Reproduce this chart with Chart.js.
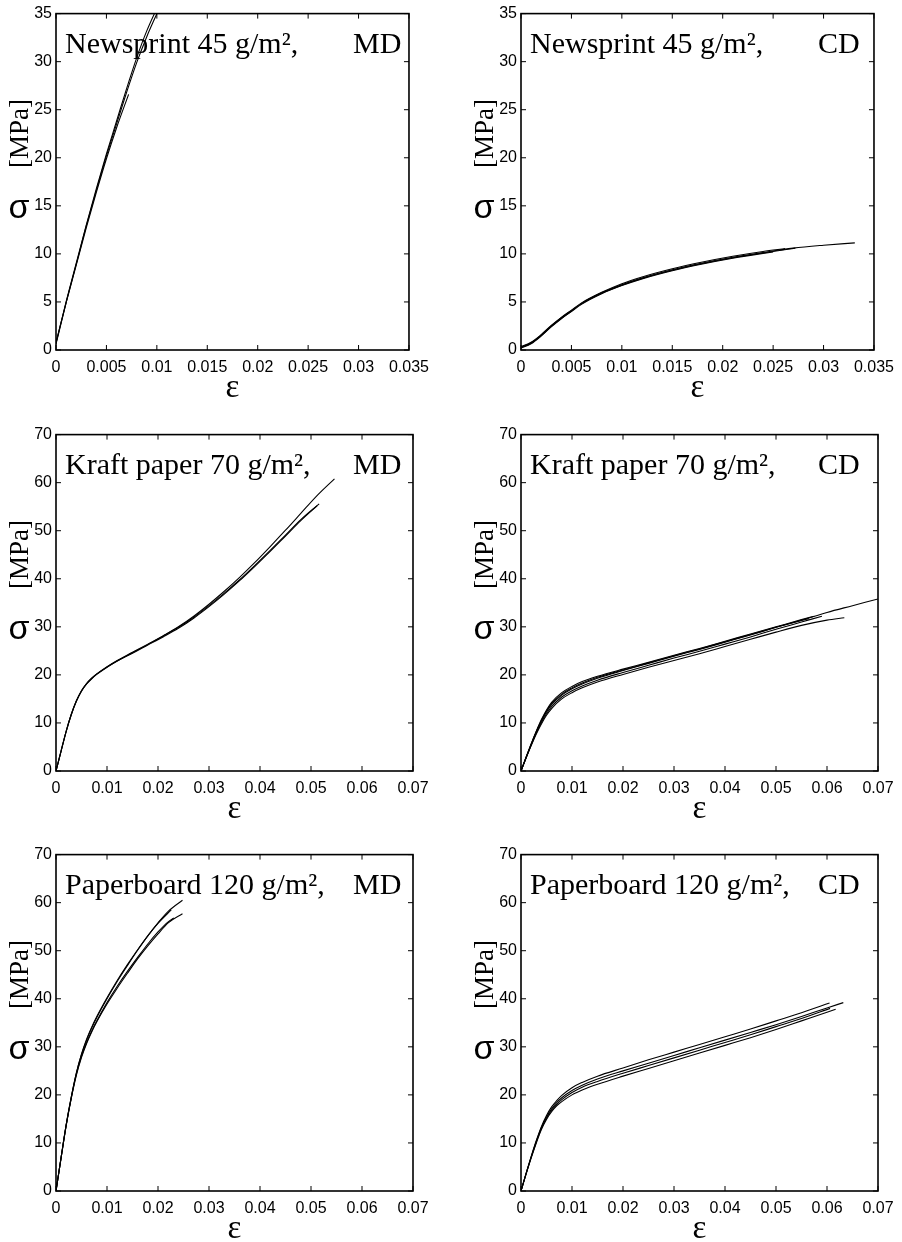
<!DOCTYPE html>
<html>
<head>
<meta charset="utf-8">
<script src="https://cdn.jsdelivr.net/npm/chart.js@4"></script>
<style>
  html, body { margin: 0; padding: 0; background: #fff; width: 902px; height: 1242px; overflow: hidden; }
  canvas { position: absolute; }
</style>
</head>
<body>
<canvas id="c1" width="437" height="405" style="left:0px;top:0px"></canvas>
<canvas id="c2" width="437" height="405" style="left:465px;top:0px"></canvas>
<canvas id="c3" width="437" height="405" style="left:0px;top:421px"></canvas>
<canvas id="c4" width="437" height="405" style="left:465px;top:421px"></canvas>
<canvas id="c5" width="437" height="405" style="left:0px;top:841px"></canvas>
<canvas id="c6" width="437" height="405" style="left:465px;top:841px"></canvas>
<script>
// ---------- tick values and labels ----------
const newsXTicks = [0, 0.005, 0.01, 0.015, 0.02, 0.025, 0.03, 0.035];
const newsXLabels = ['0', '0.005', '0.01', '0.015', '0.02', '0.025', '0.03', '0.035'];
const newsYTicks = [0, 5, 10, 15, 20, 25, 30, 35];
const newsYLabels = ['0', '5', '10', '15', '20', '25', '30', '35'];
const wideXTicks = [0, 0.01, 0.02, 0.03, 0.04, 0.05, 0.06, 0.07];
const wideXLabels = ['0', '0.01', '0.02', '0.03', '0.04', '0.05', '0.06', '0.07'];
const wideYTicks = [0, 10, 20, 30, 40, 50, 60, 70];
const wideYLabels = ['0', '10', '20', '30', '40', '50', '60', '70'];

// ---------- panel titles ----------
const panelMaterials = ['Newsprint 45 g/m²,', 'Newsprint 45 g/m²,', 'Kraft paper 70 g/m²,', 'Kraft paper 70 g/m²,', 'Paperboard 120 g/m²,', 'Paperboard 120 g/m²,'];
const panelDirections = ['MD', 'CD', 'MD', 'CD', 'MD', 'CD'];

// ---------- Newsprint MD ----------
const nmdEpsA = [0, 0.001, 0.002, 0.003, 0.004, 0.005, 0.006, 0.007, 0.008, 0.009, 0.0102];
const nmdSigA = [0.7, 5.0, 9.0, 13.0, 16.8, 20.4, 23.8, 27.2, 30.4, 33.2, 36.0];
const nmdEpsB = [0, 0.001, 0.002, 0.003, 0.004, 0.005, 0.006, 0.007, 0.008, 0.009, 0.0104];
const nmdSigB = [0.6, 4.9, 8.9, 12.9, 16.6, 20.2, 23.5, 26.8, 29.9, 32.6, 35.9];
const nmdEpsC = [0, 0.001, 0.002, 0.003, 0.004, 0.005, 0.006, 0.0072];
const nmdSigC = [0.8, 4.9, 8.8, 12.7, 16.4, 19.9, 23.1, 26.6];

// ---------- Newsprint CD ----------
const ncdEpsA = [0, 0.001, 0.002, 0.003, 0.004, 0.005, 0.006, 0.008, 0.010, 0.012, 0.015, 0.018, 0.021, 0.024, 0.027, 0.030, 0.0331];
const ncdSigA = [0.3, 0.75, 1.55, 2.5, 3.35, 4.1, 4.85, 5.95, 6.8, 7.5, 8.35, 9.05, 9.65, 10.15, 10.6, 10.9, 11.15];
const ncdEpsB = [0, 0.001, 0.002, 0.003, 0.004, 0.005, 0.006, 0.008, 0.010, 0.012, 0.015, 0.018, 0.021, 0.024, 0.0272];
const ncdSigB = [0.25, 0.7, 1.5, 2.45, 3.3, 4.05, 4.8, 5.9, 6.75, 7.45, 8.3, 9.0, 9.6, 10.1, 10.6];
const ncdEpsC = [0, 0.001, 0.002, 0.003, 0.004, 0.005, 0.006, 0.008, 0.010, 0.012, 0.015, 0.018, 0.021, 0.024, 0.0262];
const ncdSigC = [0.35, 0.8, 1.6, 2.55, 3.4, 4.15, 4.9, 6.0, 6.9, 7.6, 8.45, 9.15, 9.75, 10.25, 10.55];
const ncdEpsD = [0, 0.001, 0.002, 0.003, 0.004, 0.005, 0.006, 0.008, 0.010, 0.012, 0.015, 0.018, 0.021, 0.024, 0.025];
const ncdSigD = [0.2, 0.65, 1.45, 2.4, 3.25, 4.0, 4.75, 5.85, 6.7, 7.4, 8.25, 8.95, 9.55, 10.05, 10.2];

// ---------- Kraft paper MD ----------
const kmdEpsA = [0, 0.001, 0.002, 0.003, 0.004, 0.005, 0.006, 0.007, 0.008, 0.010, 0.012, 0.015, 0.018, 0.021, 0.024, 0.027, 0.030, 0.033, 0.036, 0.039, 0.042, 0.045, 0.048, 0.0516];
const kmdSigA = [0, 4.2, 8.3, 11.8, 14.6, 16.7, 18.2, 19.3, 20.2, 21.7, 23.0, 24.7, 26.4, 28.1, 29.9, 32.0, 34.4, 37.0, 39.8, 42.8, 45.9, 49.1, 52.3, 55.6];
const kmdEpsB = [0, 0.001, 0.002, 0.003, 0.004, 0.005, 0.006, 0.007, 0.008, 0.010, 0.012, 0.015, 0.018, 0.021, 0.024, 0.027, 0.030, 0.033, 0.036, 0.039, 0.042, 0.045, 0.048, 0.051, 0.0546];
const kmdSigB = [0, 4.1, 8.2, 11.7, 14.5, 16.6, 18.1, 19.2, 20.1, 21.6, 22.9, 24.6, 26.3, 28.1, 30.0, 32.2, 34.7, 37.4, 40.3, 43.4, 46.7, 50.1, 53.6, 57.1, 60.8];
const kmdEpsC = [0, 0.001, 0.002, 0.003, 0.004, 0.005, 0.006, 0.007, 0.008, 0.010, 0.012, 0.015, 0.018, 0.021, 0.024, 0.027, 0.030, 0.033, 0.036, 0.039, 0.042, 0.045, 0.048, 0.0512];
const kmdSigC = [0, 4.2, 8.3, 11.8, 14.6, 16.7, 18.2, 19.3, 20.2, 21.6, 22.9, 24.5, 26.2, 27.9, 29.7, 31.8, 34.2, 36.8, 39.6, 42.6, 45.7, 48.9, 52.1, 55.2];

// ---------- Kraft paper CD ----------
const kcdEpsA = [0, 0.001, 0.002, 0.003, 0.004, 0.005, 0.006, 0.008, 0.010, 0.012, 0.015, 0.020, 0.025, 0.030, 0.035, 0.040, 0.045, 0.050, 0.055, 0.060, 0.065, 0.070];
const kcdSigA = [0, 2.8, 5.5, 8.1, 10.4, 12.3, 13.8, 15.8, 17.1, 18.1, 19.3, 20.9, 22.4, 23.9, 25.3, 26.8, 28.3, 29.9, 31.4, 33.0, 34.4, 35.8];
const kcdEpsB = [0, 0.001, 0.002, 0.003, 0.004, 0.005, 0.006, 0.008, 0.010, 0.012, 0.015, 0.020, 0.025, 0.030, 0.035, 0.040, 0.045, 0.050, 0.055, 0.0575];
const kcdSigB = [0, 2.9, 5.7, 8.3, 10.7, 12.7, 14.3, 16.3, 17.6, 18.6, 19.7, 21.2, 22.6, 24.1, 25.5, 27.0, 28.5, 30.0, 31.5, 32.2];
const kcdEpsC = [0, 0.001, 0.002, 0.003, 0.004, 0.005, 0.006, 0.008, 0.010, 0.012, 0.015, 0.020, 0.025, 0.030, 0.035, 0.040, 0.045, 0.050, 0.055, 0.0565];
const kcdSigC = [0, 2.8, 5.6, 8.2, 10.5, 12.5, 14.0, 16.0, 17.3, 18.3, 19.5, 21.0, 22.5, 24.0, 25.4, 26.9, 28.4, 29.9, 31.3, 31.7];
const kcdEpsD = [0, 0.001, 0.002, 0.003, 0.004, 0.005, 0.006, 0.008, 0.010, 0.012, 0.015, 0.020, 0.025, 0.030, 0.035, 0.040, 0.045, 0.050, 0.055, 0.060, 0.0634];
const kcdSigD = [0, 2.7, 5.3, 7.7, 9.8, 11.6, 13.0, 15.0, 16.3, 17.3, 18.5, 20.1, 21.6, 23.0, 24.4, 25.9, 27.4, 28.9, 30.3, 31.4, 31.9];
const kcdEpsE = [0, 0.001, 0.002, 0.003, 0.004, 0.005, 0.006, 0.008, 0.010, 0.012, 0.015, 0.020, 0.025, 0.030, 0.035, 0.040, 0.045, 0.050, 0.055, 0.059];
const kcdSigE = [0, 2.75, 5.4, 7.9, 10.1, 11.9, 13.4, 15.4, 16.7, 17.7, 18.9, 20.5, 22.0, 23.5, 24.9, 26.4, 27.9, 29.5, 31.0, 32.2];

// ---------- Paperboard MD ----------
const pmdEpsU = [0, 0.001, 0.002, 0.003, 0.004, 0.005, 0.006, 0.007, 0.008, 0.010, 0.012, 0.014, 0.016, 0.018, 0.020, 0.022, 0.0248];
const pmdSigU = [0, 7.0, 13.8, 19.6, 24.6, 28.4, 31.4, 33.9, 36.1, 40.0, 43.6, 46.9, 50.1, 53.1, 55.8, 58.2, 60.5];
const pmdEpsT = [0, 0.001, 0.002, 0.003, 0.004, 0.005, 0.006, 0.007, 0.008, 0.010, 0.012, 0.014, 0.016, 0.018, 0.020, 0.0226];
const pmdSigT = [0, 7.0, 13.8, 19.6, 24.6, 28.5, 31.6, 34.1, 36.3, 40.2, 43.8, 47.1, 50.2, 53.1, 55.7, 58.5];
const pmdEpsL1 = [0, 0.001, 0.002, 0.003, 0.004, 0.005, 0.006, 0.007, 0.008, 0.010, 0.012, 0.014, 0.016, 0.018, 0.020, 0.022, 0.0248];
const pmdSigL1 = [0, 6.9, 13.6, 19.3, 24.1, 27.8, 30.7, 33.1, 35.2, 38.9, 42.2, 45.3, 48.3, 51.0, 53.5, 55.8, 57.7];
const pmdEpsL2 = [0, 0.001, 0.002, 0.003, 0.004, 0.005, 0.006, 0.007, 0.008, 0.010, 0.012, 0.014, 0.016, 0.018, 0.020, 0.022, 0.0231];
const pmdSigL2 = [0, 6.9, 13.7, 19.4, 24.3, 28.0, 30.9, 33.3, 35.4, 39.2, 42.6, 45.7, 48.6, 51.4, 53.9, 56.0, 56.8];

// ---------- Paperboard CD ----------
const pcdEps1 = [0, 0.001, 0.002, 0.003, 0.004, 0.005, 0.006, 0.007, 0.008, 0.010, 0.012, 0.015, 0.020, 0.025, 0.030, 0.035, 0.040, 0.045, 0.050, 0.055, 0.0605];
const pcdSig1 = [0, 3.7, 7.2, 10.5, 13.4, 15.7, 17.5, 18.8, 19.9, 21.5, 22.6, 23.9, 25.6, 27.3, 28.9, 30.5, 32.1, 33.7, 35.4, 37.1, 39.1];
const pcdEps2 = [0, 0.001, 0.002, 0.003, 0.004, 0.005, 0.006, 0.007, 0.008, 0.010, 0.012, 0.015, 0.020, 0.025, 0.030, 0.035, 0.040, 0.045, 0.050, 0.055, 0.060, 0.0632];
const pcdSig2 = [0, 3.6, 7.1, 10.3, 13.2, 15.4, 17.1, 18.4, 19.4, 20.9, 22.0, 23.3, 25.0, 26.6, 28.2, 29.8, 31.4, 33.0, 34.6, 36.3, 38.1, 39.2];
const pcdEps3 = [0, 0.001, 0.002, 0.003, 0.004, 0.005, 0.006, 0.007, 0.008, 0.010, 0.012, 0.015, 0.020, 0.025, 0.030, 0.035, 0.040, 0.045, 0.050, 0.055, 0.0606];
const pcdSig3 = [0, 3.6, 7.0, 10.2, 13.0, 15.2, 16.8, 18.0, 19.0, 20.5, 21.6, 22.8, 24.5, 26.1, 27.7, 29.3, 30.9, 32.5, 34.2, 35.9, 38.0];
const pcdEps4 = [0, 0.001, 0.002, 0.003, 0.004, 0.005, 0.006, 0.007, 0.008, 0.010, 0.012, 0.015, 0.020, 0.025, 0.030, 0.035, 0.040, 0.045, 0.050, 0.055, 0.060, 0.0617];
const pcdSig4 = [0, 3.5, 6.9, 10.0, 12.8, 14.9, 16.5, 17.7, 18.6, 20.0, 21.0, 22.2, 23.9, 25.5, 27.1, 28.7, 30.3, 31.9, 33.6, 35.4, 37.2, 37.8];

// ---------- panels ----------
const panels = [
  { id: 'c1', xMax: 0.035, yMax: 35, xT: newsXTicks, xL: newsXLabels, yT: newsYTicks, yL: newsYLabels,
    curves: [[nmdEpsA, nmdSigA], [nmdEpsB, nmdSigB], [nmdEpsC, nmdSigC]] },
  { id: 'c2', xMax: 0.035, yMax: 35, xT: newsXTicks, xL: newsXLabels, yT: newsYTicks, yL: newsYLabels,
    curves: [[ncdEpsA, ncdSigA], [ncdEpsB, ncdSigB], [ncdEpsC, ncdSigC], [ncdEpsD, ncdSigD]] },
  { id: 'c3', xMax: 0.07, yMax: 70, xT: wideXTicks, xL: wideXLabels, yT: wideYTicks, yL: wideYLabels,
    curves: [[kmdEpsA, kmdSigA], [kmdEpsB, kmdSigB], [kmdEpsC, kmdSigC]] },
  { id: 'c4', xMax: 0.07, yMax: 70, xT: wideXTicks, xL: wideXLabels, yT: wideYTicks, yL: wideYLabels,
    curves: [[kcdEpsA, kcdSigA], [kcdEpsB, kcdSigB], [kcdEpsC, kcdSigC], [kcdEpsD, kcdSigD], [kcdEpsE, kcdSigE]] },
  { id: 'c5', xMax: 0.07, yMax: 70, xT: wideXTicks, xL: wideXLabels, yT: wideYTicks, yL: wideYLabels,
    curves: [[pmdEpsU, pmdSigU], [pmdEpsT, pmdSigT], [pmdEpsL1, pmdSigL1], [pmdEpsL2, pmdSigL2]] },
  { id: 'c6', xMax: 0.07, yMax: 70, xT: wideXTicks, xL: wideXLabels, yT: wideYTicks, yL: wideYLabels,
    curves: [[pcdEps1, pcdSig1], [pcdEps2, pcdSig2], [pcdEps3, pcdSig3], [pcdEps4, pcdSig4]] }
];

// frame (box with inward ticks on all sides), panel text, and y-axis label
const framePlugin = {
  id: 'frame',
  afterDraw(chart, args, opts) {
    const { ctx, chartArea: a, scales: { x, y } } = chart;
    ctx.save();
    ctx.strokeStyle = '#000';
    ctx.lineWidth = 1.6;
    ctx.strokeRect(a.left, a.top, a.right - a.left, a.bottom - a.top);
    ctx.lineWidth = 1;
    const L = 5;
    ctx.beginPath();
    x.ticks.forEach(t => {
      const p = x.getPixelForValue(t.value);
      ctx.moveTo(p, a.bottom); ctx.lineTo(p, a.bottom - L);
      ctx.moveTo(p, a.top); ctx.lineTo(p, a.top + L);
    });
    y.ticks.forEach(t => {
      const p = y.getPixelForValue(t.value);
      ctx.moveTo(a.left, p); ctx.lineTo(a.left + L, p);
      ctx.moveTo(a.right, p); ctx.lineTo(a.right - L, p);
    });
    ctx.stroke();

    ctx.fillStyle = '#000';
    ctx.font = '30px "Liberation Serif"';
    ctx.textAlign = 'left';
    ctx.textBaseline = 'alphabetic';
    ctx.fillText(opts.material, a.left + 9, a.top + 39);
    ctx.fillText(opts.direction, a.left + 297, a.top + 39);

    ctx.font = '34px "Liberation Sans"';
    ctx.textAlign = 'center';
    ctx.textBaseline = 'middle';
    ctx.fillText('σ', a.left - 37, a.top + 195);

    ctx.translate(a.left - 28, a.top + 120);
    ctx.rotate(-Math.PI / 2);
    ctx.font = '27px "Liberation Serif"';
    ctx.textAlign = 'center';
    ctx.textBaseline = 'alphabetic';
    ctx.fillText('[MPa]', 0, 0);
    ctx.restore();
  }
};

const tickFont = { family: '"Liberation Sans", Arial, sans-serif', size: 16 };

panels.forEach((p, idx) => {
  const datasets = p.curves.map(([eps, sig]) => ({
    data: eps.map((e, i) => ({ x: e, y: sig[i] })),
    borderColor: '#000',
    borderWidth: 1.1,
    pointRadius: 0,
    fill: false,
    cubicInterpolationMode: 'monotone'
  }));
  new Chart(document.getElementById(p.id), {
    type: 'line',
    data: { datasets },
    options: {
      responsive: false,
      animation: false,
      events: [],
      layout: { padding: { top: 13, right: 24, left: 0, bottom: 0 } },
      plugins: {
        legend: { display: false },
        tooltip: { enabled: false },
        frame: { material: panelMaterials[idx], direction: panelDirections[idx] }
      },
      scales: {
        x: {
          type: 'linear', min: 0, max: p.xMax,
          afterBuildTicks: s => { s.ticks = p.xT.map(v => ({ value: v })); },
          afterFit: s => { s.height = 55; },
          grid: { display: false, drawTicks: false },
          border: { display: false },
          ticks: {
            color: '#000', font: tickFont, padding: 8, maxRotation: 0, autoSkip: false,
            callback: (v, i) => p.xL[i]
          },
          title: {
            display: true, text: 'ε', color: '#000',
            font: { family: '"Liberation Serif", serif', size: 33, lineHeight: 1 },
            padding: { top: 0, bottom: 0 }
          }
        },
        y: {
          type: 'linear', min: 0, max: p.yMax,
          afterBuildTicks: s => { s.ticks = p.yT.map(v => ({ value: v })); },
          afterFit: s => { s.width = 56; },
          grid: { display: false, drawTicks: false },
          border: { display: false },
          ticks: {
            color: '#000', font: tickFont, padding: 4, autoSkip: false,
            callback: (v, i) => p.yL[i]
          }
        }
      }
    },
    plugins: [framePlugin]
  });
});
</script>
</body>
</html>
